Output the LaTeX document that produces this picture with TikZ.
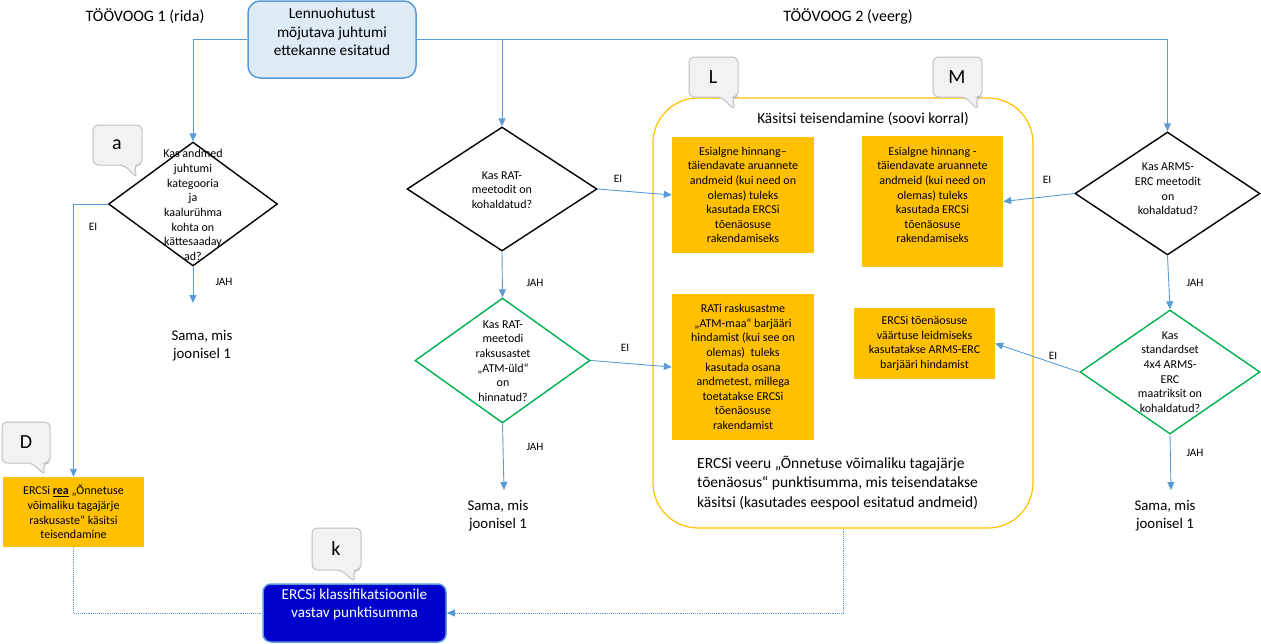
\documentclass[tikz,border=0pt]{standalone}
\usepackage{fontspec}
\setmainfont{Carlito}
\usetikzlibrary{arrows.meta,shapes.geometric}
\definecolor{lblue}{HTML}{5B9BD5}
\definecolor{startfill}{HTML}{DEEBF7}
\definecolor{orng}{HTML}{FFC000}
\definecolor{kblue}{HTML}{0000CC}
\definecolor{grn}{HTML}{00B050}
\definecolor{cofill}{HTML}{F2F2F2}
\definecolor{codraw}{HTML}{BFBFBF}
\newcommand\fsz[2]{\fontsize{#1}{#2}\selectfont}
\begin{document}
\begin{tikzpicture}[x=1pt,y=-1pt,
  conn/.style={draw=lblue, line width=0.9pt, -{Triangle[width=7pt,length=8pt]}},
  dconn/.style={draw=lblue, line width=0.9pt, densely dotted},
  dia/.style={shape=diamond, draw=black, line width=1.4pt, inner sep=0pt},
  gdia/.style={dia, draw=grn},
  dtext/.style={inner sep=0pt, align=center, font=\fsz{12}{14.7}},
  obox/.style={rectangle, fill=orng, draw=none, inner sep=0pt, align=center, font=\fsz{12}{14.6}},
  lbl/.style={inner sep=0pt, font=\fsz{11.3}{13}},
  sama/.style={inner sep=0pt, align=center, font=\fsz{14.8}{18}},
  title/.style={inner sep=0pt, font=\fsz{16}{19}},
  co/.style={fill=cofill, draw=codraw, line width=1pt, rounded corners=5pt},
  coltr/.style={inner sep=0pt, font=\fsz{20}{24}}
]
\useasboundingbox (0,0) rectangle (1261,643);

% titles
\node[title] (t1) at (145,16) {TÖÖVOOG 1 (rida)};
\node[title] (t2) at (848,16) {TÖÖVOOG 2 (veerg)};

% container
\node[rectangle, draw=orng, line width=1.2pt, rounded corners=45pt, minimum width=380pt, minimum height=430pt, inner sep=0pt] (cont) at (843,313) {};
\node[inner sep=0pt, font=\fsz{15.3}{18}] (conttitle) at (863,119) {Käsitsi teisendamine (soovi korral)};
\node[inner sep=0pt, align=left, font=\fsz{15.5}{19.5}, anchor=west] (contbottom) at (697,483) {ERCSi veeru „Õnnetuse võimaliku tagajärje\\tõenäosus“ punktisumma, mis teisendatakse\\käsitsi (kasutades eespool esitatud andmeid)};

% start box
\node[rectangle, rounded corners=12pt, fill=startfill, draw=lblue, line width=1.5pt, minimum width=168pt, minimum height=77pt, inner sep=0pt] (start) at (332,39.5) {};
\node[inner sep=0pt, align=center, font=\fsz{15.3}{18.5}] (starttext) at (332,32) {Lennuohutust\\mõjutava juhtumi\\ettekanne esitatud};

% diamonds
\node[dia, minimum width=169pt, minimum height=124pt] (d1) at (193,204) {};
\node[dtext] (d1t) at (193,205) {Kas andmed\\juhtumi\\kategooria\\ja\\kaalurühma\\kohta on\\kättesaaday\\ad?};
\node[dia, minimum width=190pt, minimum height=124pt] (d2) at (502,189) {};
\node[dtext] (d2t) at (502,190) {Kas RAT-\\meetodit on\\kohaldatud?};
\node[gdia, minimum width=175pt, minimum height=125pt] (d3) at (502.5,360.5) {};
\node[dtext] (d3t) at (503,361) {Kas RAT-\\meetodi\\raksusastet\\„ATM-üld“\\on\\hinnatud?};
\node[dia, minimum width=185pt, minimum height=123pt] (d5) at (1167.5,193.5) {};
\node[dtext] (d5t) at (1168,189) {Kas ARMS-\\ERC meetodit\\on\\kohaldatud?};
\node[gdia, minimum width=180pt, minimum height=124pt] (d6) at (1170,372) {};
\node[dtext] (d6t) at (1170,372) {Kas\\standardset\\4x4 ARMS-\\ERC\\maatriksit on\\kohaldatud?};

% orange boxes
\node[obox, minimum width=142pt, minimum height=116pt] (b1) at (743,195) {Esialgne hinnang–\\täiendavate aruannete\\andmeid (kui need on\\olemas) tuleks\\kasutada ERCSi\\tõenäosuse\\rakendamiseks};
\node[obox, minimum width=141pt, minimum height=131pt] (b2) at (932.5,201.5) {};
\node[inner sep=0pt, align=center, font=\fsz{12}{14.6}] (b2t) at (932.5,195) {Esialgne hinnang -\\täiendavate aruannete\\andmeid (kui need on\\olemas) tuleks\\kasutada ERCSi\\tõenäosuse\\rakendamiseks};
\node[obox, minimum width=142pt, minimum height=146pt] (b3) at (743,367) {RATi raskusastme\\„ATM-maa“ barjääri\\hindamist (kui see on\\olemas)\ \ tuleks\\kasutada osana\\andmetest, millega\\toetatakse ERCSi\\tõenäosuse\\rakendamist};
\node[obox, minimum width=141pt, minimum height=71pt] (b4) at (924.5,343.5) {ERCSi tõenäosuse\\väärtuse leidmiseks\\kasutatakse ARMS-ERC\\barjääri hindamist};
\node[obox, minimum width=141pt, minimum height=70pt] (bD) at (73.5,512) {ERCSi \textbf{\underline{rea}} „Õnnetuse\\võimaliku tagajärje\\raskusaste“ käsitsi\\teisendamine};

% k box
\node[rectangle, rounded corners=8pt, fill=kblue, draw=lblue, line width=1.5pt, minimum width=183pt, minimum height=58pt, inner sep=0pt] (k) at (354.5,613) {};
\node[inner sep=0pt, align=center, text=white, font=\fsz{15.2}{18}] (kt) at (354.5,604) {ERCSi klassifikatsioonile\\vastav punktisumma};

% sama texts
\node[sama] (s1) at (202,346) {Sama, mis\\joonisel 1};
\node[sama] (s2) at (498,516) {Sama, mis\\joonisel 1};
\node[sama] (s3) at (1165,516) {Sama, mis\\joonisel 1};

% free ends
\coordinate (e1) at (193,303);
\coordinate (e2) at (504,490);
\coordinate (e3) at (1171,490);

% connectors
\draw[conn] (start.west) -| (d1.north);
\draw[conn] (start.east) -| (d5.north);
\draw[conn] (start.east -| d2.north) -- (d2.north);
\draw[conn] (d1.west) -| (bD.north);
\draw[conn] (d1.south) -- (e1);
\draw[conn] (d2.east) -- (b1.west);
\draw[conn] (d2.south) -- (d3.north);
\draw[conn] (d3.east) -- (b3.west);
\draw[conn] (d3.south) -- (e2);
\draw[conn] (d5.west) -- (b2.east);
\draw[conn] (d5.south) -- (d6.north);
\draw[conn] (d6.west) -- (b4.east);
\draw[conn] (d6.south) -- (e3);
\draw[dconn] (bD.south) |- (k.west);
\draw[dconn, -{Triangle[width=7pt,length=8pt]}] (cont.south) |- (k.east);

% labels
\node[lbl] (l1) at (93,227) {EI};
\node[lbl] (l2) at (224,282) {JAH};
\node[lbl] (l3) at (618,179) {EI};
\node[lbl] (l4) at (535,283) {JAH};
\node[lbl] (l5) at (625,348) {EI};
\node[lbl] (l6) at (535,447) {JAH};
\node[lbl] (l7) at (1047,180) {EI};
\node[lbl] (l8) at (1195,283) {JAH};
\node[lbl] (l9) at (1053,356) {EI};
\node[lbl] (l10) at (1195,453) {JAH};

% callouts
\path[co] (93,125) -- (142,125) -- (142,165) -- (134,165) -- (137,178) -- (124,165) -- (93,165) -- cycle;
\node[coltr] (ca) at (117,145) {a};
\path[co] (689,57) -- (738,57) -- (738,97) -- (732,97) -- (735,110) -- (721,97) -- (689,97) -- cycle;
\node[coltr] (cl) at (713,77) {L};
\path[co] (933,57) -- (982,57) -- (982,97) -- (976,97) -- (978,110) -- (965,97) -- (933,97) -- cycle;
\node[coltr] (cm) at (957,77) {M};
\path[co] (2,422) -- (50,422) -- (50,463) -- (43,463) -- (45,475) -- (32,463) -- (2,463) -- cycle;
\node[coltr] (cd) at (26,442) {D};
\path[co] (312,528) -- (361,528) -- (361,570) -- (353,570) -- (355,582) -- (341,570) -- (312,570) -- cycle;
\node[coltr] (ck) at (336,549) {k};
\end{tikzpicture}
\end{document}
